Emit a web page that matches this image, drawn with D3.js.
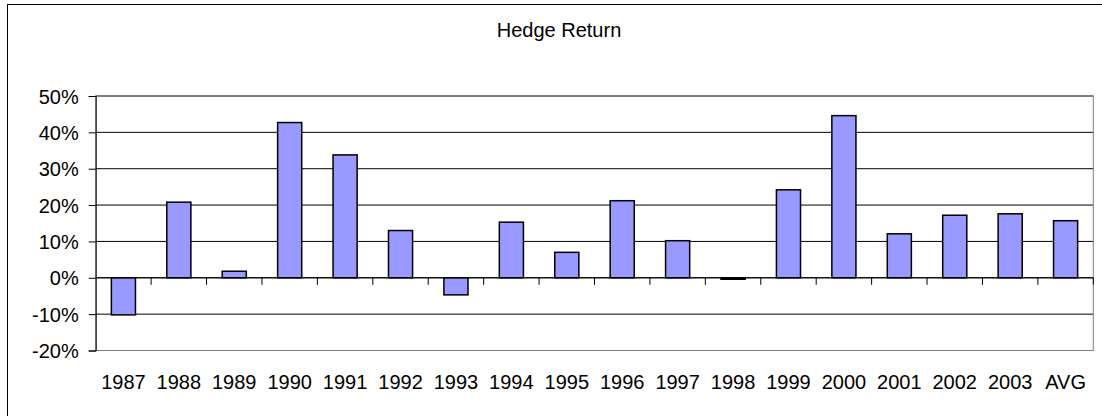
<!DOCTYPE html>
<html>
<head>
<meta http-equiv="Content-Type" content="text/html;charset=utf-8">
<title>Hedge Return</title>
<script src="https://d3js.org/d3.v7.min.js"></script>
<style>
	html,body {
		margin: 0;
		padding: 0;
		background: #fff;
	}
	text {
		font-family: Arial, "Liberation Sans", sans-serif;
		font-size: 20px;
		fill: #000;
	}
	.bar {
		fill: #9999ff;
		stroke: #000;
		stroke-width: 1.5px;
	}
</style>
</head>
<body>
<script type="text/javascript">

	let years = ["1987","1988","1989","1990","1991","1992","1993","1994","1995",
		"1996","1997","1998","1999","2000","2001","2002","2003","AVG"];
	let hedgeReturn = [-0.102, 0.208, 0.018, 0.427, 0.338, 0.130, -0.047, 0.153, 0.070,
		0.212, 0.102, -0.004, 0.242, 0.446, 0.121, 0.172, 0.176, 0.157];
	let yTicks = [-0.2, -0.1, 0, 0.1, 0.2, 0.3, 0.4, 0.5];
	let title = "Hedge Return";

	let width = 1102, height = 416;
	let plot = {left: 95.7, right: 1093.3, top: 96, bottom: 350.5};

	let svg = d3.select("body").append("svg")
		.attr("width", width)
		.attr("height", height);

	// chart area border (runs off the bottom / right of the picture)
	svg.append("rect")
		.attr("x", 7.5).attr("y", 4.5)
		.attr("width", 1120).attr("height", 430)
		.attr("fill", "#fff")
		.attr("stroke", "#000");

	let x = d3.scaleBand()
		.domain(years)
		.range([plot.left, plot.right])
		.padding(0);

	let y = d3.scaleLinear()
		.domain([-0.2, 0.5])
		.range([plot.bottom, plot.top]);

	let barW = x.bandwidth() / 2.3;

	// gridlines
	svg.append("g")
		.selectAll("line")
		.data(yTicks)
		.enter().append("line")
		.attr("x1", plot.left).attr("x2", plot.right)
		.attr("y1", d => y(d)).attr("y2", d => y(d))
		.attr("stroke", "#000")
		.attr("stroke-width", 1);

	// plot area border
	svg.append("rect")
		.attr("x", plot.left).attr("y", plot.top)
		.attr("width", plot.right - plot.left)
		.attr("height", plot.bottom - plot.top)
		.attr("fill", "none")
		.attr("stroke", "#808080");

	// y axis (plain hyphen for negatives, like the original)
	let yAxis = d3.axisLeft(y)
		.tickValues(yTicks)
		.tickSize(7)
		.tickPadding(10)
		.tickFormat(d => Math.round(d * 100) + "%");

	let gy = svg.append("g")
		.attr("transform", "translate(" + plot.left + ",0)")
		.call(yAxis);
	gy.select(".domain").attr("stroke", "#000");
	gy.selectAll("text").style("font-size", "20px").attr("dy", "0.35em");

	// bars
	svg.append("g")
		.selectAll("rect")
		.data(hedgeReturn)
		.enter().append("rect")
		.attr("class", "bar")
		.attr("x", (d, i) => x(years[i]) + (x.bandwidth() - barW) / 2)
		.attr("width", barW)
		.attr("y", d => y(Math.max(0, d)))
		.attr("height", d => Math.max(1, Math.abs(y(d) - y(0))));

	// category axis at 0
	let zeroY = y(0);
	svg.append("line")
		.attr("x1", plot.left).attr("x2", plot.right)
		.attr("y1", zeroY).attr("y2", zeroY)
		.attr("stroke", "#000");

	let bounds = years.map(d => x(d) + x.bandwidth());
	svg.append("g")
		.selectAll("line")
		.data(bounds)
		.enter().append("line")
		.attr("x1", d => d).attr("x2", d => d)
		.attr("y1", zeroY).attr("y2", zeroY + 7)
		.attr("stroke", "#000");

	// category labels under the plot
	svg.append("g")
		.selectAll("text")
		.data(years)
		.enter().append("text")
		.attr("x", d => x(d) + x.bandwidth() / 2)
		.attr("y", 389)
		.attr("text-anchor", "middle")
		.text(d => d);

	svg.append("text")
		.attr("x", 559)
		.attr("y", 37)
		.attr("text-anchor", "middle")
		.text(title);

</script>
</body>
</html>
